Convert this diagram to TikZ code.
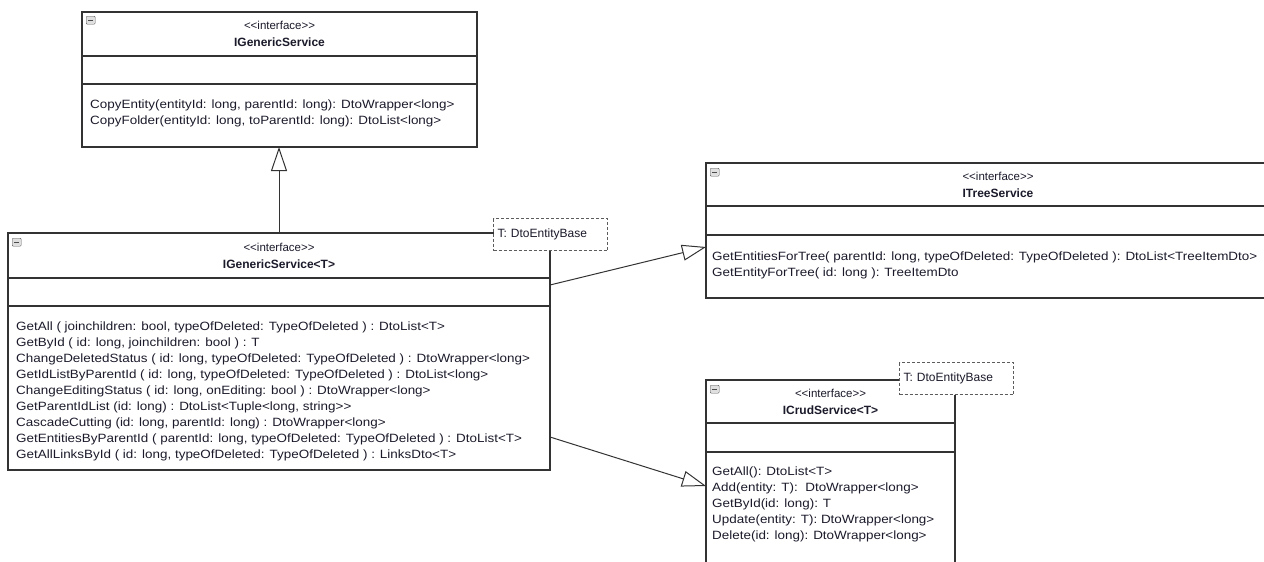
\documentclass[tikz,border=0pt]{standalone}
\usepackage{fontspec}
\setmainfont{Liberation Sans}
\newfontfamily\opsfont{Liberation Sans}[FakeStretch=1.12]
\usetikzlibrary{positioning,arrows.meta}
\definecolor{umlline}{HTML}{333333}
\definecolor{umltext}{HTML}{1A1A2A}
\newcommand{\stereo}[1]{{\fontsize{11.5}{12}\selectfont\mdseries <{}<#1>{}>}}

\begin{document}
\begin{tikzpicture}[x=1pt, y=-1pt,
    cls/.style={rectangle, draw=umlline, line width=1.4pt, inner sep=0pt, outer sep=0pt,
                anchor=north west},
    hdr/.style={cls, align=center, text=umltext, font=\fontsize{12}{17}\selectfont\bfseries},
    comp/.style={cls, below=0pt of #1},
    ops/.style={anchor=north west, align=left, inner sep=0pt, text=umltext,
                font=\opsfont\fontsize{12}{16}\selectfont},
    mini/.style={rectangle, draw=gray!70!black, fill=gray!25, rounded corners=1pt,
                 minimum width=9pt, minimum height=8pt, inner sep=0pt, anchor=north west,
                 path picture={\draw[gray!60!black, line width=1.2pt]
                   ([xshift=2pt]path picture bounding box.west) --
                   ([xshift=-2pt]path picture bounding box.east);}},
    tmpl/.style={rectangle, draw=umlline!80, dash pattern=on 3pt off 2pt, line width=1.2pt,
                 fill=white, minimum width=114pt, minimum height=32pt, text width=106pt,
                 inner sep=4pt, anchor=north west, align=left, text=umltext,
                 font=\fontsize{12}{14}\selectfont},
    gen/.style={-{Triangle[open, length=24pt, width=16pt]}, draw=umlline, line width=1pt},
  ]
  \useasboundingbox (0,0) rectangle (1264,562);
  \clip (0,0) rectangle (1264,562);

  % IGenericService
  \node[hdr, minimum width=395pt, minimum height=44pt] (gsvc) at (82,12)
    {\stereo{interface}\\IGenericService};
  \node[comp=gsvc, minimum width=395pt, minimum height=28pt] (gsvc-a) {};
  \node[comp=gsvc-a, minimum width=395pt, minimum height=63pt] (gsvc-m) {};
  \node[mini] (gsvc-i) at ([shift={(4,4)}]gsvc.north west) {};
  \node[ops] (gsvc-o) at ([shift={(8,16)}]gsvc-m.north west)
    {CopyEntity(entityId: long, parentId: long): DtoWrapper<long>\\
     CopyFolder(entityId: long, toParentId: long): DtoList<long>};

  % IGenericService<T>
  \node[hdr, minimum width=542pt, minimum height=45pt] (gsvcT) at (8,233)
    {\stereo{interface}\\IGenericService<T>};
  \node[comp=gsvcT, minimum width=542pt, minimum height=28pt] (gsvcT-a) {};
  \node[comp=gsvcT-a, minimum width=542pt, minimum height=164pt] (gsvcT-m) {};
  \node[mini] (gsvcT-i) at ([shift={(4,5)}]gsvcT.north west) {};
  \node[tmpl] (gsvcT-t) at ([shift={(485,-15)}]gsvcT.north west) {T: DtoEntityBase};
  \node[ops] (gsvcT-o) at ([shift={(8,16)}]gsvcT-m.north west)
    {GetAll ( joinchildren: bool, typeOfDeleted: TypeOfDeleted ) : DtoList<T>\\
     GetById ( id: long, joinchildren: bool ) : T\\
     ChangeDeletedStatus ( id: long, typeOfDeleted: TypeOfDeleted ) : DtoWrapper<long>\\
     GetIdListByParentId ( id: long, typeOfDeleted: TypeOfDeleted ) : DtoList<long>\\
     ChangeEditingStatus ( id: long, onEditing: bool ) : DtoWrapper<long>\\
     GetParentIdList (id: long) : DtoList<Tuple<long, string>{}>\\
     CascadeCutting (id: long, parentId: long) : DtoWrapper<long>\\
     GetEntitiesByParentId ( parentId: long, typeOfDeleted: TypeOfDeleted ) : DtoList<T>\\
     GetAllLinksById ( id: long, typeOfDeleted: TypeOfDeleted ) : LinksDto<T>};

  % ITreeService
  \node[hdr, minimum width=584pt, minimum height=43pt] (tree) at (706,163)
    {\stereo{interface}\\ITreeService};
  \node[comp=tree, minimum width=584pt, minimum height=29pt] (tree-a) {};
  \node[comp=tree-a, minimum width=584pt, minimum height=63pt] (tree-m) {};
  \node[mini] (tree-i) at ([shift={(4,5)}]tree.north west) {};
  \node[ops] (tree-o) at ([shift={(6,17)}]tree-m.north west)
    {GetEntitiesForTree( parentId: long, typeOfDeleted: TypeOfDeleted ): DtoList<TreeItemDto>\\
     GetEntityForTree( id: long ): TreeItemDto};

  % ICrudService<T>
  \node[hdr, minimum width=249pt, minimum height=43pt] (crud) at (706,380)
    {\stereo{interface}\\ICrudService<T>};
  \node[comp=crud, minimum width=249pt, minimum height=29pt] (crud-a) {};
  \node[comp=crud-a, minimum width=249pt, minimum height=130pt] (crud-m) {};
  \node[mini] (crud-i) at ([shift={(4,5)}]crud.north west) {};
  \node[tmpl] (crud-t) at ([shift={(193,-18)}]crud.north west) {T: DtoEntityBase};
  \node[ops] (crud-o) at ([shift={(6,15)}]crud-m.north west)
    {GetAll(): DtoList<T>\\
     Add(entity: T):\ \ DtoWrapper<long>\\
     GetById(id: long): T\\
     Update(entity: T): DtoWrapper<long>\\
     Delete(id: long): DtoWrapper<long>};

  % Edges
  \draw[gen] (gsvcT.north) -- (gsvcT.north |- gsvc-m.south);
  \draw[gen] ([yshift=-7pt]gsvcT-a.north east) -- ([yshift=-12pt]tree-m.north west);
  \draw[gen] ([yshift=33pt]gsvcT-m.south east) -- ([yshift=-34pt]crud-m.north west);

\end{tikzpicture}
\end{document}
